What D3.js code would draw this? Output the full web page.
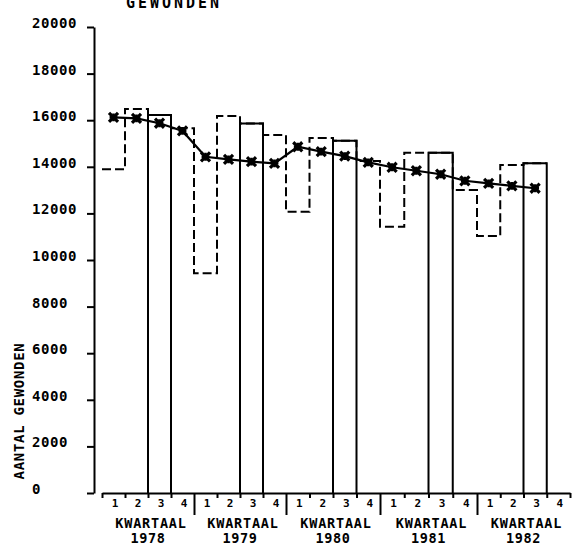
<!DOCTYPE html>
<html><head><meta charset="utf-8">
<script src="https://cdn.jsdelivr.net/npm/d3@7"></script>
<style>
html,body{margin:0;padding:0;background:#fff;}
svg{display:block;}
text{font-family:"DejaVu Sans Mono",monospace;font-weight:bold;fill:#000;}
</style></head>
<body>
<svg id="c" width="574" height="551"></svg>
<script>
// ---- data ----
const years = ["1978", "1979", "1980", "1981", "1982"];
const quarterLabels = ["1", "2", "3", "4"];
// quarterly number of injured (step bars), Q1 1978 .. Q3 1982
const actual = [13900, 16480, 16220, 15650,
                9430, 16180, 15860, 15360,
                12070, 15240, 15120, 14250,
                11430, 14600, 14600, 13000,
                11030, 14080, 14150];
// trend line (marked points)
const trend = [16120, 16080, 15870, 15540,
               14430, 14320, 14220, 14150,
               14860, 14650, 14460, 14190,
               13980, 13830, 13680, 13400,
               13290, 13180, 13080];
const yTicks = [0, 2000, 4000, 6000, 8000, 10000, 12000, 14000, 16000, 18000, 20000];
const title = "GEWONDEN";
const yTitle = "AANTAL GEWONDEN";
const groupLabel = "KWARTAAL";

// ---- scales ----
const svg = d3.select("#c");
const x = d3.scaleLinear().domain([0, 4, 8, 12, 16, 20]).range([102, 194, 286, 380, 477, 570]);
const y = d3.scaleLinear().domain([0, 20000]).range([493, 27]);

// ---- title ----
svg.append("text").attr("x", 174).attr("y", 8).attr("text-anchor", "middle")
  .attr("font-size", 15).attr("letter-spacing", 3).text(title);

// ---- y axis ----
const yAxis = svg.append("g").attr("transform", "translate(94,0)")
  .call(d3.axisLeft(y).tickValues(yTicks).tickSize(7).tickSizeOuter(0).tickFormat(""));
yAxis.selectAll("path,line").attr("stroke", "#000").attr("stroke-width", 2);
svg.selectAll(".ytl").data(yTicks).enter().append("text")
  .attr("class", "ytl").attr("x", 32).attr("y", d => y(d) + 1)
  .attr("font-size", 14).attr("letter-spacing", 0.6).text(d => d);
svg.append("text").attr("transform", "translate(24,411) rotate(-90)")
  .attr("text-anchor", "middle").attr("font-size", 14).attr("letter-spacing", 0.7).text(yTitle);

// ---- x axis ----
const xAxis = svg.append("g").attr("transform", "translate(0,493)")
  .call(d3.axisBottom(x).tickValues(d3.range(0, 21)).tickSize(5).tickSizeOuter(0).tickFormat(""));
xAxis.selectAll("path,line").attr("stroke", "#000").attr("stroke-width", 2);
xAxis.selectAll(".tick line").attr("y2", d => (d % 4 === 0 && d > 0 && d < 20) ? 22 : 5);

const qIdx = d3.range(20);
svg.selectAll(".ql").data(qIdx).enter().append("text")
  .attr("class", "ql").attr("x", d => (x(d) + x(d + 1)) / 2 + 1.5).attr("y", 507)
  .attr("text-anchor", "middle").attr("font-size", 11).text(d => quarterLabels[d % 4]);
years.forEach((yr, k) => {
  const cx = (x(k * 4) + x(k * 4 + 4)) / 2;
  svg.append("text").attr("x", cx + 3).attr("y", 527.5).attr("text-anchor", "middle")
    .attr("font-size", 13.5).attr("letter-spacing", 0.8).text(groupLabel);
  svg.append("text").attr("x", cx).attr("y", 543).attr("text-anchor", "middle")
    .attr("font-size", 13.5).attr("letter-spacing", 0.6).text(yr);
});

// ---- dashed step line of quarterly values ----
const stepData = actual.map((v, i) => ({ i, v }));
stepData.push({ i: actual.length, v: actual[actual.length - 1] });
svg.append("path").datum(stepData)
  .attr("d", d3.line().x(d => x(d.i)).y(d => y(d.v)).curve(d3.curveStepAfter))
  .attr("fill", "none").attr("stroke", "#000").attr("stroke-width", 2)
  .attr("stroke-dasharray", "9,4");

// ---- solid third-quarter bars ----
const q3 = actual.map((v, i) => ({ i, v })).filter(d => d.i % 4 === 2);
svg.selectAll(".q3").data(q3).enter().append("path").attr("class", "q3")
  .attr("d", d => `M${x(d.i)},${y(0)}V${y(d.v)}H${x(d.i + 1)}V${y(0)}`)
  .attr("fill", "none").attr("stroke", "#000").attr("stroke-width", 2);

// ---- trend line with markers ----
const tData = trend.map((v, i) => ({ i, v }));
const cxq = d => (x(d.i) + x(d.i + 1)) / 2;
svg.append("path").datum(tData)
  .attr("d", d3.line().x(cxq).y(d => y(d.v)))
  .attr("fill", "none").attr("stroke", "#000").attr("stroke-width", 2.2);
const mk = svg.selectAll(".mk").data(tData).enter().append("g")
  .attr("transform", d => `translate(${cxq(d)},${y(d.v)})`);
mk.append("path").attr("d", d3.symbol(d3.symbolTimes, 55)).attr("fill", "none")
  .attr("stroke", "#000").attr("stroke-width", 3.2);
mk.append("path").attr("d", d3.symbol(d3.symbolCross, 34)).attr("fill", "#000");
</script>
</body></html>
